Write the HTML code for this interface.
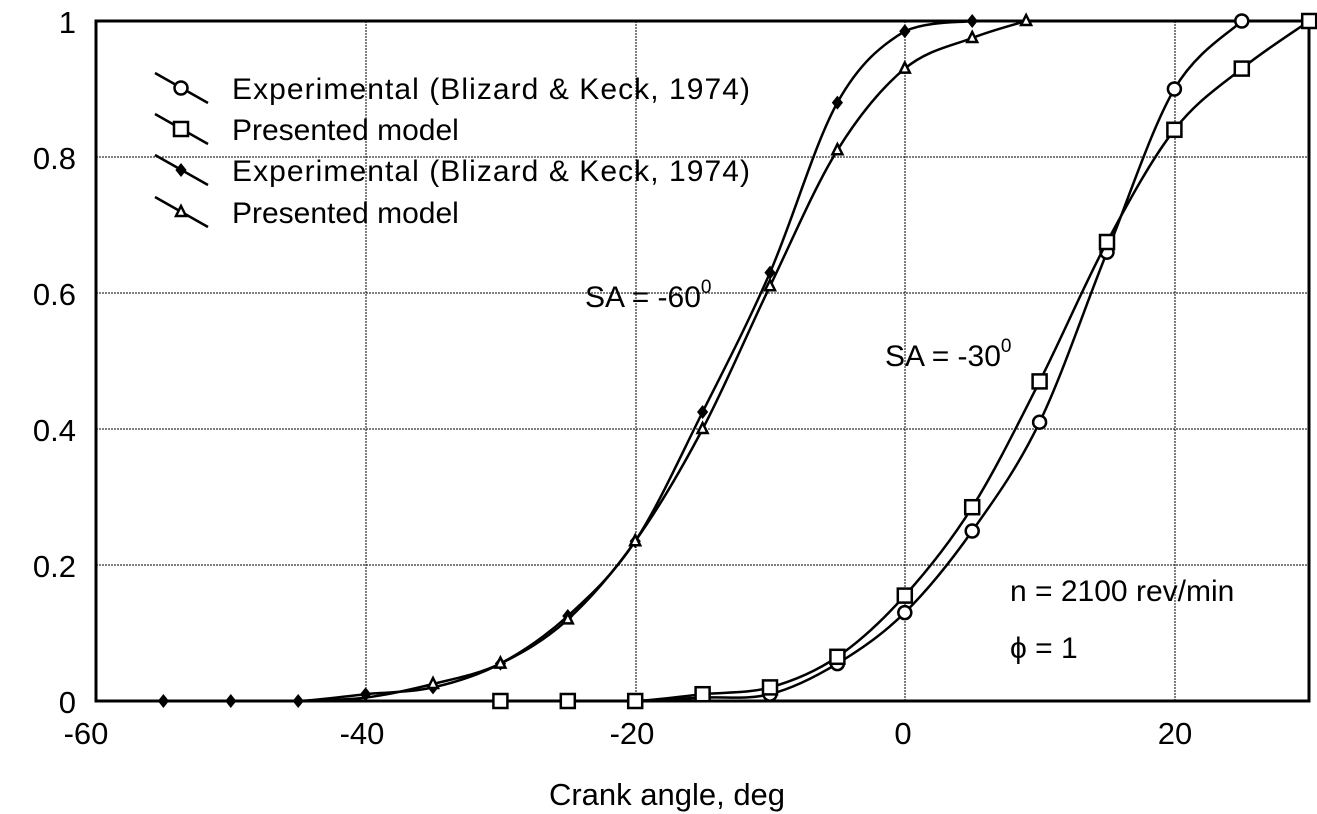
<!DOCTYPE html><html><head><style>body{margin:0;background:#fff}svg{display:block}text{font-family:"Liberation Sans",sans-serif;fill:#000}</style></head><body>
<svg id="s" width="1317" height="814" xmlns="http://www.w3.org/2000/svg">
<g stroke="#000" stroke-width="1" stroke-dasharray="2,1">
<line x1="366" y1="21" x2="366" y2="701"/><line x1="636" y1="21" x2="636" y2="701"/><line x1="905" y1="21" x2="905" y2="701"/><line x1="1175" y1="21" x2="1175" y2="701"/>
<line x1="96" y1="565" x2="1309" y2="565"/><line x1="96" y1="429" x2="1309" y2="429"/><line x1="96" y1="293" x2="1309" y2="293"/><line x1="96" y1="157" x2="1309" y2="157"/>
</g>
<rect x="96" y="21" width="1213" height="680" fill="none" stroke="#000" stroke-width="3"/>
<g font-size="31" text-anchor="end"><text x="76" y="33">1</text><text x="76" y="169">0.8</text><text x="76" y="305">0.6</text><text x="76" y="441">0.4</text><text x="76" y="577">0.2</text><text x="76" y="713">0</text></g>
<g font-size="31" text-anchor="middle"><text x="86" y="744">-60</text><text x="362" y="744">-40</text><text x="632" y="744">-20</text><text x="903" y="744">0</text><text x="1175" y="744">20</text><text x="667" y="805">Crank angle, deg</text></g>
<g font-size="30"><text x="232" y="99" textLength="518">Experimental (Blizard &amp; Keck, 1974)</text><text x="232" y="140">Presented model</text><text x="232" y="181" textLength="518">Experimental (Blizard &amp; Keck, 1974)</text><text x="232" y="223">Presented model</text>
<text x="585" y="307">SA = -60<tspan font-size="19" dy="-14">0</tspan></text>
<text x="885" y="366">SA = -30<tspan font-size="19" dy="-14">0</tspan></text>
<text x="1010" y="601">n = 2100 rev/min</text>
<text x="1010" y="658" font-family="Liberation Serif">ϕ = 1</text></g>
<g id="g" fill="none" stroke="#000" stroke-width="2.5"></g>
</svg>
<script>
const X=v=>96+(v+60)*13.48,Y=f=>701-680*f,g=document.getElementById('g');
function path(d){let p=d.map(a=>[X(a[0]),Y(a[1])]);let s=`M${p[0]}`;for(let i=0;i<p.length-1;i++){let a=p[i-1]||p[i],b=p[i],c=p[i+1],e=p[i+2]||c;let y1=b[1]+(c[1]-a[1])/6,y2=c[1]-(e[1]-b[1])/6;y1=Math.min(Math.max(y1,21),701);y2=Math.min(Math.max(y2,21),701);s+=`C${b[0]+(c[0]-a[0])/6},${y1} ${c[0]-(e[0]-b[0])/6},${y2} ${c[0]},${c[1]}`}return s}
function mk(t,x,y){if(t=='o')return`<circle cx="${x}" cy="${y}" r="6.5" fill="#fff"/>`;if(t=='s')return`<rect x="${x-7}" y="${y-7}" width="14" height="14" fill="#fff"/>`;if(t=='d')return`<path d="M${x},${y-5}L${x+4},${y}L${x},${y+5}L${x-4},${y}Z" fill="#000"/>`;return`<path d="M${x},${y-6}L${x+5},${y+4}L${x-5},${y+4}Z" fill="#fff"/>`}
const S=[['d',[[-55,0],[-50,0],[-45,0],[-40,0.01],[-35,0.02],[-30,0.055],[-25,0.125],[-20,0.235],[-15,0.425],[-10,0.63],[-5,0.88],[0,0.985],[5,1]]],
['t',[[-45,0],[-40,0.005],[-35,0.025],[-30,0.055],[-25,0.12],[-20,0.235],[-15,0.4],[-10,0.61],[-5,0.81],[0,0.93],[5,0.975],[9,1]]],
['o',[[-20,0],[-15,0.005],[-10,0.01],[-5,0.055],[0,0.13],[5,0.25],[10,0.41],[15,0.66],[20,0.9],[25,1]]],
['s',[[-30,0],[-25,0],[-20,0],[-15,0.01],[-10,0.02],[-5,0.065],[0,0.155],[5,0.285],[10,0.47],[15,0.675],[20,0.84],[25,0.93],[30,1]]]];
let h='';S.forEach(([t,d])=>{h+=`<path d="${path(d)}"/>`;d.forEach(a=>{if(!(t=='t'&&a[0]<-35)&&!(t=='o'&&a[0]<-10))h+=mk(t,X(a[0]),Y(a[1]))})});
[['o',88],['s',129],['d',170],['t',212]].forEach(([t,y])=>{h+=`<line x1="155" y1="${y-15}" x2="208" y2="${y+15}"/>`+mk(t,181,y)});
g.innerHTML=h;
</script></body></html>
